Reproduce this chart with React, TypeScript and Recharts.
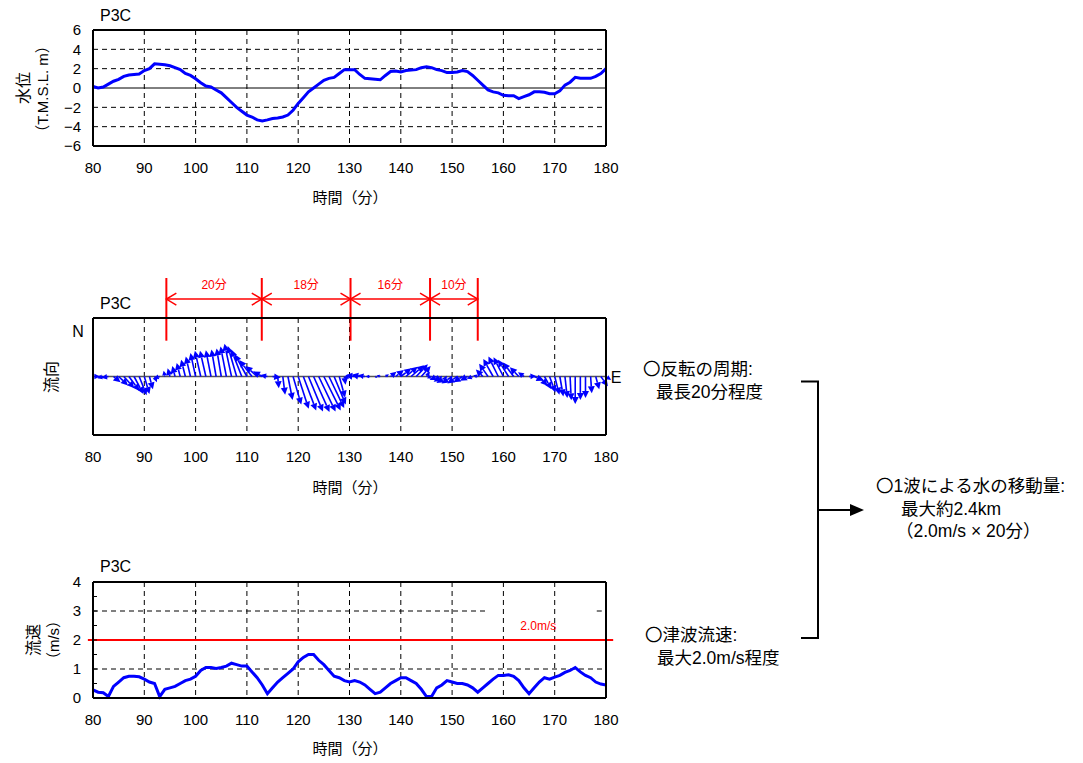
import {
  LineChart,
  Line,
  XAxis,
  YAxis,
  CartesianGrid,
  ReferenceLine,
  ReferenceDot,
} from "recharts";

// time axis (minutes)
const minutes = [
  80, 81, 82, 83, 84, 85, 86, 87, 88, 89, 90, 91, 92, 93, 94, 95, 96, 97, 98, 99,
  100, 101, 102, 103, 104, 105, 106, 107, 108, 109, 110, 111, 112, 113, 114, 115, 116, 117, 118, 119,
  120, 121, 122, 123, 124, 125, 126, 127, 128, 129, 130, 131, 132, 133, 134, 135, 136, 137, 138, 139,
  140, 141, 142, 143, 144, 145, 146, 147, 148, 149, 150, 151, 152, 153, 154, 155, 156, 157, 158, 159,
  160, 161, 162, 163, 164, 165, 166, 167, 168, 169, 170, 171, 172, 173, 174, 175, 176, 177, 178, 179,
  180,
];

// 水位 (T.M.S.L. m)
const waterLevel = [
  0.15, 0.0, 0.1, 0.4, 0.7, 0.9, 1.2, 1.35, 1.4, 1.45, 1.8, 2.0, 2.5, 2.45, 2.4, 2.3, 2.1, 1.9, 1.5, 1.3,
  0.95, 0.55, 0.2, 0.1, -0.2, -0.5, -1.0, -1.5, -2.0, -2.4, -2.8, -3.0, -3.3, -3.4, -3.3, -3.15, -3.1, -3.0, -2.8, -2.3,
  -1.6, -1.0, -0.4, 0.0, 0.4, 0.8, 1.0, 1.1, 1.5, 1.9, 1.9, 1.9, 1.4, 1.0, 0.95, 0.9, 0.85, 1.3, 1.7, 1.75,
  1.65, 1.8, 1.85, 1.9, 2.1, 2.2, 2.1, 1.9, 1.8, 1.6, 1.6, 1.65, 1.8, 1.7, 1.3, 0.8, 0.3, -0.2, -0.4, -0.5,
  -0.75, -0.8, -0.8, -1.1, -0.9, -0.7, -0.4, -0.4, -0.45, -0.6, -0.6, -0.3, 0.3, 0.6, 1.1, 1.0, 1.0, 1.0, 1.2, 1.5,
  2.0,
];

// 流向 vector components (east, north)
const flowEast = [
  0.3, 0.15, -0.25, -0.3, 0.3, 0.4, 0.45, 0.45, 0.4, 0.32, 0.22, 0.15, 0.1, -0.25, -0.05, -0.1, -0.12, -0.15, -0.18, -0.2,
  -0.22, -0.25, -0.25, -0.22, -0.2, -0.2, -0.25, -0.3, -0.38, -0.45, -0.52, -0.55, -0.5, -0.4, -0.3, 0.35, 0.05, 0.1, 0.2, 0.35,
  0.45, 0.55, 0.62, 0.68, 0.72, 0.72, 0.65, 0.5, 0.25, 0.05, -0.25, -0.4, -0.35, -0.3, -0.2, 0.1, -0.15, 0.15, 0.25, 0.35,
  0.45, 0.5, 0.55, 0.5, 0.4, 0.15, -0.2, -0.3, -0.35, -0.45, -0.45, -0.42, -0.38, -0.32, -0.25, -0.2, -0.3, -0.38, -0.42, -0.42,
  -0.42, -0.45, -0.45, -0.38, -0.25, 0.3, 0.4, 0.35, 0.3, 0.25, 0.2, 0.15, 0.1, 0.05, 0.0, 0.0, 0.0, 0.05, 0.15, 0.3,
  0.22,
];
const flowNorth = [
  0.0, -0.05, -0.08, -0.05, -0.25, -0.38, -0.5, -0.62, -0.75, -0.8, -0.75, -0.55, -0.25, -0.08, 0.25, 0.35, 0.45, 0.58, 0.72, 0.85,
  1.0, 1.1, 1.1, 1.12, 1.15, 1.2, 1.28, 1.4, 1.3, 1.15, 0.95, 0.7, 0.45, 0.22, 0.06, -0.04, -0.5, -0.78, -1.0, -1.2,
  -1.38, -1.45, -1.5, -1.52, -1.5, -1.45, -1.35, -1.2, -0.9, -0.35, -0.05, 0.05, 0.08, 0.05, 0.0, -0.05, 0.05, 0.1, 0.2, 0.28,
  0.35, 0.42, 0.48, 0.52, 0.45, 0.2, -0.08, -0.15, -0.22, -0.28, -0.3, -0.3, -0.25, -0.18, -0.1, 0.05, 0.3, 0.55, 0.75, 0.85,
  0.82, 0.72, 0.6, 0.4, 0.18, 0.02, -0.18, -0.4, -0.55, -0.68, -0.78, -0.85, -0.92, -1.02, -1.18, -1.0, -0.92, -0.72, -0.55, -0.42,
  -0.15,
];

// 流速 (m/s)
const flowSpeed = [
  0.28, 0.2, 0.18, 0.05, 0.4, 0.55, 0.7, 0.75, 0.75, 0.73, 0.65, 0.55, 0.5, 0.05, 0.3, 0.35, 0.4, 0.5, 0.6, 0.65,
  0.75, 0.95, 1.05, 1.05, 1.02, 1.05, 1.1, 1.2, 1.15, 1.1, 1.1, 0.9, 0.7, 0.45, 0.15, 0.35, 0.55, 0.7, 0.85, 1.0,
  1.25, 1.4, 1.5, 1.5, 1.3, 1.15, 0.95, 0.75, 0.7, 0.6, 0.55, 0.6, 0.55, 0.45, 0.3, 0.15, 0.2, 0.35, 0.5, 0.6,
  0.7, 0.7, 0.6, 0.5, 0.3, 0.05, 0.05, 0.35, 0.45, 0.6, 0.55, 0.5, 0.5, 0.45, 0.35, 0.2, 0.35, 0.5, 0.65, 0.78,
  0.78, 0.8, 0.75, 0.6, 0.35, 0.15, 0.35, 0.55, 0.7, 0.65, 0.72, 0.78, 0.88, 0.95, 1.05, 0.9, 0.78, 0.7, 0.55, 0.48,
  0.45,
];

const xTicks = [80, 90, 100, 110, 120, 130, 140, 150, 160, 170, 180];
const levelTicks = [-6, -4, -2, 0, 2, 4, 6];
const levelGrid = [-4, -2, 2, 4];
const dirTicks = [-2.5, -2, -1.5, -1, -0.5, 0, 0.5, 1, 1.5, 2, 2.5];
const speedTicks = [0, 0.5, 1, 1.5, 2, 2.5, 3, 3.5, 4];
const periodMarks = [94.3, 112.9, 130.2, 145.7, 155.0];
const periodLabels = ["20分", "18分", "16分", "10分"];
const speedLimit = 2.0;

const levelRows = minutes.map((t, i) => ({ t, level: waterLevel[i] }));
const flowRows = minutes.map((t, i) => ({ t, e: flowEast[i], n: flowNorth[i] }));
const speedRows = minutes.map((t, i) => ({ t, speed: flowSpeed[i] }));

const BLUE = "#0000ff";
const RED = "#ff0000";
const FONT = "'Liberation Sans', 'Noto Sans CJK JP', sans-serif";
// keeps arrows isotropic: y unit (px) / x minute (px)
const E_TO_MIN = 4.56;

const minus = (v: number) => (v < 0 ? `−${-v}` : `${v}`);

function Arrow(p: any) {
  const { x1, y1, x2, y2 } = p;
  const dx = x2 - x1;
  const dy = y2 - y1;
  const len = Math.hypot(dx, dy);
  if (!len) return <g />;
  const ux = dx / len;
  const uy = dy / len;
  const h = Math.min(7, len * 0.8);
  const w = h * 0.5;
  const bx = x2 - ux * h;
  const by = y2 - uy * h;
  return (
    <g>
      <line x1={x1} y1={y1} x2={bx} y2={by} stroke={BLUE} strokeWidth={1.6} />
      <polygon
        points={`${x2},${y2} ${bx - uy * w},${by + ux * w} ${bx + uy * w},${by - ux * w}`}
        fill={BLUE}
      />
    </g>
  );
}

const spanShape = (label: string) => (p: any) => {
  const { x1, y1, x2 } = p;
  const h = 10;
  const w = 6;
  return (
    <g>
      <line x1={x1} y1={y1} x2={x2} y2={y1} stroke={RED} strokeWidth={1.5} />
      <polyline points={`${x1 + h},${y1 - w} ${x1},${y1} ${x1 + h},${y1 + w}`} fill="none" stroke={RED} strokeWidth={1.5} />
      <polyline points={`${x2 - h},${y1 - w} ${x2},${y1} ${x2 - h},${y1 + w}`} fill="none" stroke={RED} strokeWidth={1.5} />
      <text x={(x1 + x2) / 2} y={y1 - 10} textAnchor="middle" fill={RED} fontSize={12}>
        {label}
      </text>
    </g>
  );
};

// plot frame drawn through the chart's own scales
function frame(y0: number, y1: number) {
  const sides = [
    [{ x: 80, y: y0 }, { x: 180, y: y0 }],
    [{ x: 80, y: y1 }, { x: 180, y: y1 }],
    [{ x: 80, y: y0 }, { x: 80, y: y1 }],
    [{ x: 180, y: y0 }, { x: 180, y: y1 }],
  ];
  return sides.map((s, i) => (
    <ReferenceLine key={`f${i}`} segment={s as any} stroke="#000" strokeWidth={2} ifOverflow="visible" />
  ));
}

function Txt({ x, y, size = 15, rot = false, left = false, color = "#000", children }: any) {
  return (
    <div
      style={{
        position: "absolute",
        left: x,
        top: y,
        fontSize: size,
        lineHeight: 1,
        color,
        whiteSpace: "nowrap",
        transform: rot
          ? "translate(-50%, -50%) rotate(-90deg)"
          : left
          ? "translate(0, -50%)"
          : "translate(-50%, -50%)",
      }}
    >
      {children}
    </div>
  );
}

const xAxisProps = {
  dataKey: "t",
  type: "number" as const,
  domain: [80, 180],
  ticks: xTicks,
  height: 30,
  tickLine: false,
  tickSize: 0,
  tickMargin: 16,
  axisLine: false,
  tick: { fill: "#000", fontSize: 15 },
  interval: 0 as const,
};

export default function App() {
  return (
    <div style={{ position: "absolute", left: 0, top: 0, width: 1083, height: 763, background: "#fff", fontFamily: FONT }}>
      {/* 水位 */}
      <div style={{ position: "absolute", left: 0, top: 0 }}>
        <LineChart width={620} height={215} data={levelRows} margin={{ top: 30, right: 14, bottom: 39, left: 63 }}>
          <CartesianGrid stroke="#000" strokeDasharray="5 4" horizontal={false} />
          <XAxis {...xAxisProps} />
          <YAxis
            domain={[-6, 6]}
            ticks={levelTicks}
            width={30}
            tickLine={false}
            tickSize={0}
            tickMargin={12}
            axisLine={false}
            tickFormatter={minus}
            tick={{ fill: "#000", fontSize: 15 }}
            interval={0}
          />
          {levelGrid.map((v) => (
            <ReferenceLine key={v} y={v} stroke="#000" strokeDasharray="5 4" />
          ))}
          <ReferenceLine y={0} stroke="#000" strokeWidth={1} />
          <Line type="linear" dataKey="level" stroke={BLUE} strokeWidth={3} dot={false} isAnimationActive={false} />
          {frame(-6, 6)}
        </LineChart>
      </div>

      {/* 流向 */}
      <div style={{ position: "absolute", left: 0, top: 265 }}>
        <LineChart width={620} height={235} data={flowRows} margin={{ top: 53, right: 13, bottom: 35, left: 63 }}>
          <CartesianGrid stroke="#000" strokeDasharray="5 4" horizontal={false} />
          <XAxis {...xAxisProps} />
          <YAxis
            domain={[-2.5, 2.5]}
            ticks={dirTicks}
            width={30}
            tick={false}
            tickSize={-4}
            axisLine={false}
            tickLine={{ stroke: "#000" }}
            interval={0}
          />
          <YAxis
            yAxisId="r"
            orientation="right"
            domain={[-2.5, 2.5]}
            ticks={dirTicks}
            width={1}
            tick={false}
            tickSize={-4}
            axisLine={false}
            tickLine={{ stroke: "#000" }}
            interval={0}
          />
          {/* north component carries the y-domain; the arrows are the visible marks */}
          <Line dataKey="n" stroke="none" dot={false} activeDot={false} isAnimationActive={false} />
          <Line yAxisId="r" dataKey="n" stroke="none" dot={false} activeDot={false} isAnimationActive={false} />
          <ReferenceLine y={0} stroke="#555" strokeWidth={1.5} />
          {flowRows.map((r) => (
            <ReferenceLine
              key={r.t}
              segment={[
                { x: r.t, y: 0 },
                { x: r.t + r.e * E_TO_MIN, y: r.n },
              ]}
              ifOverflow="visible"
              shape={Arrow}
            />
          ))}
          {periodMarks.map((m) => (
            <ReferenceLine
              key={`m${m}`}
              segment={[
                { x: m, y: 1.53 },
                { x: m, y: 4.21 },
              ]}
              stroke={RED}
              strokeWidth={2}
              ifOverflow="visible"
            />
          ))}
          {periodLabels.map((lbl, i) => (
            <ReferenceLine
              key={`s${i}`}
              segment={[
                { x: periodMarks[i], y: 3.31 },
                { x: periodMarks[i + 1], y: 3.31 },
              ]}
              ifOverflow="visible"
              shape={spanShape(lbl)}
            />
          ))}
          {frame(-2.5, 2.5)}
        </LineChart>
      </div>

      {/* 流速 */}
      <div style={{ position: "absolute", left: 0, top: 545 }}>
        <LineChart width={620} height={218} data={speedRows} margin={{ top: 37, right: 13, bottom: 35, left: 63 }}>
          <CartesianGrid stroke="#000" strokeDasharray="5 4" horizontal={false} />
          <XAxis {...xAxisProps} />
          <YAxis
            domain={[0, 4]}
            ticks={speedTicks}
            width={30}
            tickSize={-4}
            tickMargin={16}
            axisLine={false}
            tickLine={{ stroke: "#000" }}
            tickFormatter={(v: number) => (Number.isInteger(v) ? `${v}` : "")}
            tick={{ fill: "#000", fontSize: 15 }}
            interval={0}
          />
          <YAxis
            yAxisId="r"
            orientation="right"
            domain={[0, 4]}
            ticks={speedTicks}
            width={1}
            tick={false}
            tickSize={-4}
            axisLine={false}
            tickLine={{ stroke: "#000" }}
            interval={0}
          />
          <Line yAxisId="r" dataKey="speed" stroke="none" dot={false} activeDot={false} isAnimationActive={false} />
          <ReferenceLine y={1} stroke="#000" strokeDasharray="5 4" />
          <ReferenceLine
            segment={[
              { x: 80, y: 3 },
              { x: 156.6, y: 3 },
            ]}
            stroke="#000"
            strokeDasharray="5 4"
          />
          <ReferenceLine
            segment={[
              { x: 178.2, y: 3 },
              { x: 180, y: 3 },
            ]}
            stroke="#000"
            strokeDasharray="5 4"
          />
          <ReferenceLine
            segment={[
              { x: 79, y: speedLimit },
              { x: 181.4, y: speedLimit },
            ]}
            stroke={RED}
            strokeWidth={2}
            ifOverflow="visible"
          />
          <ReferenceDot
            x={166.8}
            y={2.48}
            r={0}
            ifOverflow="visible"
            shape={(p: any) => (
              <text x={p.cx} y={p.cy} textAnchor="middle" dominantBaseline="central" fill={RED} fontSize={12}>
                2.0m/s
              </text>
            )}
          />
          <Line type="linear" dataKey="speed" stroke={BLUE} strokeWidth={3} dot={false} isAnimationActive={false} />
          {frame(0, 4)}
        </LineChart>
      </div>

      {/* chart titles and axis labels */}
      <Txt x={100} y={16} size={16} left>P3C</Txt>
      <Txt x={100} y={304} size={16} left>P3C</Txt>
      <Txt x={100} y={567} size={16} left>P3C</Txt>
      <Txt x={350} y={197}>時間（分）</Txt>
      <Txt x={350} y={487}>時間（分）</Txt>
      <Txt x={350} y={748}>時間（分）</Txt>
      <Txt x={24} y={88} size={16} rot>水位</Txt>
      <Txt x={42} y={89} size={15} rot>（T.M.S.L. m）</Txt>
      <Txt x={52} y={377} size={16} rot>流向</Txt>
      <Txt x={34} y={640} size={16} rot>流速</Txt>
      <Txt x={53} y={640} size={15} rot>（m/s）</Txt>
      <Txt x={78} y={332} size={16}>N</Txt>
      <Txt x={616} y={378} size={16}>E</Txt>

      {/* right-hand summary */}
      <Txt x={643} y={370} size={17.5} left>〇反転の周期:</Txt>
      <Txt x={656} y={393} size={17.5} left>最長20分程度</Txt>
      <Txt x={645} y={636} size={17.5} left>〇津波流速:</Txt>
      <Txt x={657} y={659} size={17.5} left>最大2.0m/s程度</Txt>
      <Txt x={876} y={487} size={17.5} left>〇1波による水の移動量:</Txt>
      <Txt x={901} y={510} size={17.5} left>最大約2.4km</Txt>
      <Txt x={896} y={532} size={17.5} left>（2.0m/s × 20分）</Txt>
      <svg width={1083} height={763} style={{ position: "absolute", left: 0, top: 0, pointerEvents: "none" }}>
        <polyline points="801,381.5 818,381.5 818,638 801,638" fill="none" stroke="#000" strokeWidth={2} />
        <line x1={818} y1={510} x2={852} y2={510} stroke="#000" strokeWidth={2} />
        <polygon points="864,510 850,504 850,516" fill="#000" />
      </svg>
    </div>
  );
}
